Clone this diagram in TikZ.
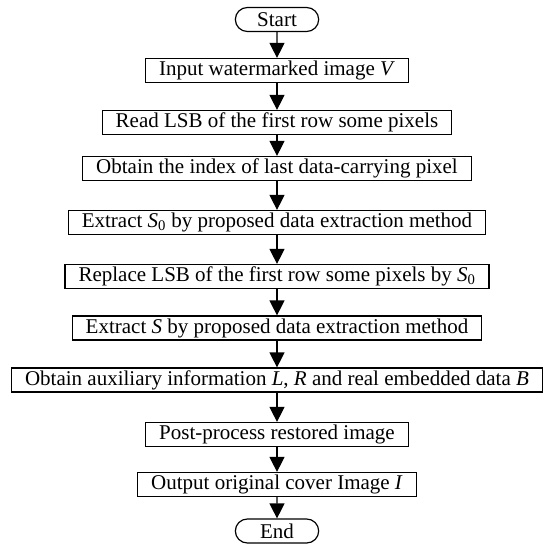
\documentclass[tikz,border=0pt]{standalone}
\usepackage{fontspec}
\setmainfont{Liberation Serif}
\usetikzlibrary{arrows.meta, positioning, shapes.misc}
\tikzset {
  proc/.style = {draw, line width=1.2pt, rectangle, minimum height=24pt, inner xsep=13.5pt, inner ysep=0pt, font=\fontsize{21}{25}\selectfont},
  term/.style = {draw, line width=1.2pt, rounded rectangle, minimum height=24pt, minimum width=90pt, inner ysep=0pt, font=\fontsize{21}{25}\selectfont},
  line/.style = {-{Triangle[width=15pt, length=15pt]}, line width=1.2pt},
}

\begin{document}
\begin{tikzpicture}
    \useasboundingbox (0pt,0pt) rectangle (548pt,-545pt);

    \node[term, name=start] (start) at (277pt,-19.5pt) {Start};
    \node[proc, name=input, below = 25.8pt of start] (input) {Input watermarked image \textit{V}};
    \node[proc, name=readlsb, below = 26.8pt of input] (readlsb) {Read LSB of the first row some pixels};
    \node[proc, name=index, below = 20.8pt of readlsb] (index) {Obtain the index of last data-carrying pixel};
    \node[proc, name=extsz, below = 28.8pt of index] (extsz) {Extract \textit{S}\textsubscript{0} by proposed data extraction method};
    \node[proc, name=replace, below = 28.8pt of extsz] (replace) {Replace LSB of the first row some pixels by \textit{S}\textsubscript{0}};
    \node[proc, name=exts, below = 26.3pt of replace] (exts) {Extract \textit{S} by proposed data extraction method};
    \node[proc, name=aux, below = 26.8pt of exts] (aux) {Obtain auxiliary information \textit{L}, \textit{R} and real embedded data \textit{B}};
    \node[proc, name=post, below = 29.3pt of aux] (post) {Post-process restored image};
    \node[proc, name=output, below = 24.8pt of post] (output) {Output original cover Image \textit{I}};
    \node[term, name=finish, below = 21.3pt of output] (finish) {End};

    \draw[line] (start) -- (input);
    \draw[line] (input) -- (readlsb);
    \draw[line] (readlsb) -- (index);
    \draw[line] (index) -- (extsz);
    \draw[line] (extsz) -- (replace);
    \draw[line] (replace) -- (exts);
    \draw[line] (exts) -- (aux);
    \draw[line] (aux) -- (post);
    \draw[line] (post) -- (output);
    \draw[line] (output) -- (finish);

\end{tikzpicture}
\end{document}
